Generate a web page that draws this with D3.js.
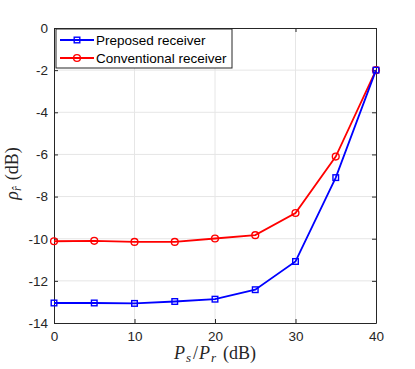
<!DOCTYPE html>
<html>
<head>
<meta charset="utf-8">
<script src="https://cdn.jsdelivr.net/npm/d3@7"></script>
<style>
  body { margin: 0; background: #fff; }
  svg { display: block; }
  .tick text { font-family: "Liberation Sans", Arial, sans-serif; font-size: 13.5px; fill: #262626; }
  .grid line { stroke: #e6e6e6; stroke-width: 1; }
  .lab { font-family: "Liberation Serif", "DejaVu Serif", serif; font-size: 18px; fill: #262626; }
</style>
</head>
<body>
<div id="chart"></div>
<script>
// ------------------------------------------
//  Data
// ------------------------------------------
const snr = [0, 5, 10, 15, 20, 25, 30, 35, 40]
const preposed = [-13.05, -13.05, -13.07, -12.98, -12.87, -12.42, -11.08, -7.1, -2]
const conventional = [-10.12, -10.1, -10.15, -10.15, -9.99, -9.83, -8.78, -6.1, -2]
const xTicks = [0, 10, 20, 30, 40]
const yTicks = [0, -2, -4, -6, -8, -10, -12, -14]
const seriesNames = ["Preposed receiver", "Conventional receiver"]

// ------------------------------------------
//  Chart
// ------------------------------------------
function drawChart() {
    const W = 415, H = 369
    const margin = { top: 28, right: 39, bottom: 46, left: 54 }
    const width = W - margin.left - margin.right
    const height = H - margin.top - margin.bottom

    const svg = d3.select("#chart").append("svg").attr("width", W).attr("height", H)
    const g = svg.append("g").attr("transform", `translate(${margin.left},${margin.top})`)

    const x = d3.scaleLinear().domain([0, 40]).range([0, width])
    const y = d3.scaleLinear().domain([-14, 0]).range([height, 0])

    // grid
    g.append("g").attr("class", "grid")
        .selectAll("line").data(xTicks.slice(1, -1)).enter().append("line")
        .attr("x1", d => x(d)).attr("x2", d => x(d)).attr("y1", 0).attr("y2", height)
    g.append("g").attr("class", "grid")
        .selectAll("line").data(yTicks.slice(1, -1)).enter().append("line")
        .attr("x1", 0).attr("x2", width).attr("y1", d => y(d)).attr("y2", d => y(d))

    // axes (ticks inward, like matlab)
    const axisColor = "#262626"
    const styleAxis = sel => {
        sel.select(".domain").attr("stroke", axisColor)
        sel.selectAll(".tick line").attr("stroke", axisColor)
    }
    g.append("g").attr("transform", `translate(0,${height})`)
        .call(d3.axisBottom(x).tickValues(xTicks).tickSizeInner(-4).tickSizeOuter(0).tickPadding(8))
        .call(styleAxis)
    g.append("g")
        .call(d3.axisLeft(y).tickValues(yTicks).tickSizeInner(-4).tickSizeOuter(0).tickPadding(6).tickFormat(d => String(d)))
        .call(styleAxis)
    g.append("g")
        .call(d3.axisTop(x).tickValues(xTicks).tickSizeInner(-4).tickSizeOuter(0).tickFormat(""))
        .call(styleAxis)
    g.append("g").attr("transform", `translate(${width},0)`)
        .call(d3.axisRight(y).tickValues(yTicks).tickSizeInner(-4).tickSizeOuter(0).tickFormat(""))
        .call(styleAxis)

    // lines
    const line = d3.line().x(d => x(d[0])).y(d => y(d[1]))
    const series = [
        { name: seriesNames[0], color: "#0000ff", marker: "square", values: snr.map((s, i) => [s, preposed[i]]) },
        { name: seriesNames[1], color: "#ff0000", marker: "circle", values: snr.map((s, i) => [s, conventional[i]]) }
    ]

    const drawMarker = (sel, s) => {
        if (s.marker === "square") {
            sel.append("rect").attr("x", -2.8).attr("y", -2.8).attr("width", 5.6).attr("height", 5.6)
                .attr("fill", "none").attr("stroke", s.color).attr("stroke-width", 1.4)
        } else {
            sel.append("circle").attr("r", 3.4)
                .attr("fill", "none").attr("stroke", s.color).attr("stroke-width", 1.4)
        }
    }

    // draw conventional first so preposed sits on top at 40
    series.slice().reverse().forEach(s => {
        g.append("path").datum(s.values)
            .attr("d", line).attr("fill", "none").attr("stroke", s.color).attr("stroke-width", 1.8)
        g.selectAll(null).data(s.values).enter().append("g")
            .attr("transform", d => `translate(${x(d[0])},${y(d[1])})`)
            .each(function () { drawMarker(d3.select(this), s) })
    })

    // legend
    const lg = g.append("g").attr("transform", "translate(2,1)")
    lg.append("rect").attr("width", 176).attr("height", 39)
        .attr("fill", "#fff").attr("stroke", axisColor).attr("stroke-width", 1)
    series.forEach((s, i) => {
        const row = lg.append("g").attr("transform", `translate(0,${11 + i * 18})`)
        row.append("line").attr("x1", 4).attr("x2", 38).attr("stroke", s.color).attr("stroke-width", 1.8)
        drawMarker(row.append("g").attr("transform", "translate(21,0)"), s)
        row.append("text").attr("x", 40).attr("dy", "0.35em")
            .style("font-family", '"Liberation Sans", Arial, sans-serif').style("font-size", "13.5px")
            .attr("fill", "#000").text(s.name)
    })

    // axis labels
    const xl = svg.append("text").attr("class", "lab")
        .attr("x", margin.left + width / 2).attr("y", 359).attr("text-anchor", "middle")
    xl.append("tspan").attr("font-style", "italic").text("P")
    xl.append("tspan").attr("font-style", "italic").attr("font-size", "13px").attr("dy", 3).attr("dx", 1).text("s")
    xl.append("tspan").attr("dy", -3).attr("dx", 2).text("/")
    xl.append("tspan").attr("font-style", "italic").attr("dx", 1).text("P")
    xl.append("tspan").attr("font-style", "italic").attr("font-size", "13px").attr("dy", 3).attr("dx", 1).text("r")
    xl.append("tspan").attr("dy", -3).attr("dx", 7).text("(dB)")

    const yl = svg.append("text").attr("class", "lab")
        .attr("transform", `translate(18,${margin.top + height / 2 - 2}) rotate(-90)`).attr("text-anchor", "middle")
    yl.append("tspan").attr("font-style", "italic").text("\u03c1")
    yl.append("tspan").attr("font-style", "italic").attr("font-size", "12px").attr("dy", 3).text("r\u0302")
    yl.append("tspan").attr("dy", -3).attr("dx", 6).text("(dB)")
}

drawChart()
</script>
</body>
</html>
